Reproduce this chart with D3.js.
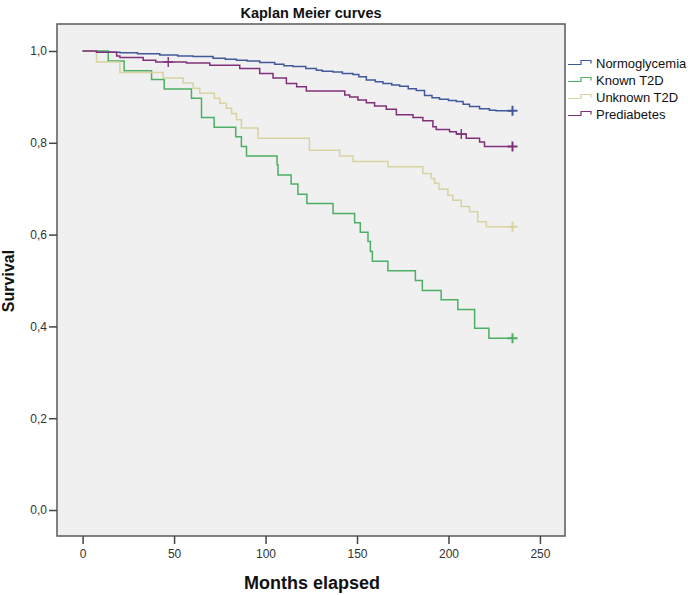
<!DOCTYPE html>
<html>
<head>
<meta charset="utf-8">
<script src="https://cdn.jsdelivr.net/npm/d3@7"></script>
<style>
  html, body { margin: 0; padding: 0; background: #ffffff; }
  svg { display: block; font-family: "Liberation Sans", Arial, sans-serif; }
</style>
</head>
<body>
<svg id="chart" width="688" height="595"></svg>
<script>
// ---- Data (months elapsed, cumulative survival) ----
const seriesNames = ["Normoglycemia", "Known T2D", "Unknown T2D", "Prediabetes"];
const seriesColors = ["#41599a", "#4caf63", "#d8d3a0", "#80307a"];

const normoglycemia = [
  [0, 1.0], [7.6, 0.998], [15, 0.997], [20.4, 0.996], [30, 0.994], [42.2, 0.991],
  [52, 0.989], [60.4, 0.988], [71.3, 0.984], [78, 0.982], [84.1, 0.980], [90, 0.978],
  [96.8, 0.975], [105, 0.971], [110, 0.968], [115, 0.966], [122, 0.962], [127.8, 0.958],
  [131, 0.956], [136.9, 0.954], [142, 0.951], [147.8, 0.949], [151, 0.944], [155.1, 0.937],
  [160, 0.933], [164.2, 0.929], [169, 0.926], [173.3, 0.923], [178, 0.918], [182.4, 0.914],
  [186.9, 0.903], [191, 0.898], [195.1, 0.895], [200, 0.892], [204.3, 0.890], [208, 0.884],
  [211.5, 0.879], [217, 0.874], [222.4, 0.871], [226, 0.870], [235, 0.870]
];
const knownT2D = [
  [0, 1.0], [14, 0.978], [22.7, 0.957], [37.7, 0.938], [44.6, 0.917], [59.5, 0.897],
  [65, 0.855], [71.9, 0.834], [83.7, 0.813], [86.8, 0.792], [89.6, 0.771], [106.3, 0.752],
  [106.8, 0.730], [114, 0.710], [117.7, 0.688], [122.6, 0.668], [136.9, 0.646], [148.7, 0.626],
  [151.8, 0.605], [156, 0.585], [157.3, 0.563], [158.4, 0.542], [166.9, 0.521], [181.9, 0.500],
  [185.7, 0.478], [196, 0.458], [205.1, 0.437], [214.3, 0.396], [222.1, 0.374], [235, 0.374]
];
const unknownT2D = [
  [0, 1.0], [7.6, 0.976], [20.4, 0.953], [44, 0.941], [55, 0.930], [60.4, 0.919],
  [64, 0.908], [72, 0.897], [75, 0.886], [78.6, 0.875], [81.4, 0.864], [84.1, 0.850],
  [86.8, 0.832], [95.9, 0.810], [124, 0.784], [140.5, 0.771], [147.8, 0.759], [166.9, 0.748],
  [186, 0.733], [190.6, 0.722], [192.4, 0.712], [194.8, 0.699], [199.7, 0.686], [202.4, 0.675],
  [207, 0.661], [211.5, 0.650], [216, 0.628], [220.7, 0.617], [235, 0.617]
];
const prediabetes = [
  [0, 1.0], [7.6, 0.997], [18.6, 0.989], [20.4, 0.986], [33.1, 0.980], [40, 0.976],
  [56.8, 0.974], [69.5, 0.969], [85.9, 0.962], [96.8, 0.951], [104.1, 0.941], [111.4, 0.929],
  [117, 0.922], [122.3, 0.913], [143.3, 0.904], [146, 0.900], [150.5, 0.893], [155.1, 0.887],
  [159.6, 0.880], [166, 0.873], [171.5, 0.861], [180.6, 0.855], [186, 0.848], [191.5, 0.835],
  [193.3, 0.829], [200.6, 0.824], [204.3, 0.819], [209.7, 0.810], [217, 0.802], [219.7, 0.792],
  [235, 0.792]
];
const seriesData = [normoglycemia, knownT2D, unknownT2D, prediabetes];

// censored observations (month, survival, series index)
const censored = [
  [235, 0.870, 0], [235, 0.374, 1], [235, 0.617, 2], [235, 0.792, 3],
  [46.8, 0.976, 3], [207, 0.819, 3]
];

const xTicks = [0, 50, 100, 150, 200, 250];
const yTicks = [0.0, 0.2, 0.4, 0.6, 0.8, 1.0];

// ---- Layout ----
const svg = d3.select("#chart");
const plot = { left: 57, right: 565, top: 24, bottom: 536 };

const x = d3.scaleLinear().domain([-14, 263.7]).range([plot.left, plot.right]);
const y = d3.scaleLinear().domain([-0.0566, 1.0588]).range([plot.bottom, plot.top]);

// plot background
svg.append("rect")
  .attr("x", plot.left).attr("y", plot.top)
  .attr("width", plot.right - plot.left).attr("height", plot.bottom - plot.top)
  .attr("fill", "#f0f0f0").attr("stroke", "#5a5a5a").attr("stroke-width", 1.5);

const fmt = d => d3.format(".1f")(d).replace(".", ",");

// y axis
const yAxis = svg.append("g")
  .attr("transform", `translate(${plot.left},0)`)
  .call(d3.axisLeft(y).tickValues(yTicks).tickFormat(fmt).tickSize(8).tickPadding(2));
yAxis.select(".domain").remove();
yAxis.selectAll("line").attr("stroke", "#444").attr("stroke-width", 1.5);
yAxis.selectAll("text").attr("fill", "#333").style("font-size", "12px")
  .style("font-family", "'Liberation Sans', Arial, sans-serif");

// x axis
const xAxis = svg.append("g")
  .attr("transform", `translate(0,${plot.bottom})`)
  .call(d3.axisBottom(x).tickValues(xTicks).tickFormat(d3.format("d")).tickSize(8).tickPadding(5));
xAxis.select(".domain").remove();
xAxis.selectAll("line").attr("stroke", "#444").attr("stroke-width", 1.5);
xAxis.selectAll("text").attr("fill", "#333").style("font-size", "12px")
  .style("font-family", "'Liberation Sans', Arial, sans-serif");

// curves
const line = d3.line().x(d => x(d[0])).y(d => y(d[1])).curve(d3.curveStepAfter);
const curveG = svg.append("g");
seriesData.forEach((data, i) => {
  curveG.append("path")
    .datum(data)
    .attr("d", line)
    .attr("fill", "none")
    .attr("stroke", seriesColors[i])
    .attr("stroke-width", 1.5);
});

// censor marks
const ms = 5;
censored.forEach(c => {
  const cx = x(c[0]), cy = y(c[1]);
  curveG.append("path")
    .attr("d", `M${cx - ms},${cy}H${cx + ms}M${cx},${cy - ms}V${cy + ms}`)
    .attr("stroke", seriesColors[c[2]])
    .attr("stroke-width", c[0] > 230 ? 2 : 1.4)
    .attr("fill", "none");
});

// title and axis labels
svg.append("text")
  .attr("x", 311).attr("y", 18)
  .attr("text-anchor", "middle")
  .style("font-size", "14.5px").style("font-weight", "bold").attr("fill", "#111")
  .text("Kaplan Meier curves");

svg.append("text")
  .attr("x", 312).attr("y", 589)
  .attr("text-anchor", "middle")
  .style("font-size", "18px").style("font-weight", "bold").attr("fill", "#111")
  .text("Months elapsed");

svg.append("text")
  .attr("transform", "translate(14,281) rotate(-90)")
  .attr("text-anchor", "middle")
  .style("font-size", "16px").style("font-weight", "bold").attr("fill", "#111")
  .text("Survival");

// legend
const legend = svg.append("g");
seriesNames.forEach((name, i) => {
  const by = 67.5 + i * 17;
  const lowY = by - 3, highY = by - 7;
  legend.append("path")
    .attr("d", `M568,${lowY}H581V${highY}H591V${highY + 3}`)
    .attr("fill", "none")
    .attr("stroke", seriesColors[i])
    .attr("stroke-width", 1.2);
  legend.append("text")
    .attr("x", 596).attr("y", by)
    .style("font-size", "13px").attr("fill", "#111")
    .text(name);
});
</script>
</body>
</html>
